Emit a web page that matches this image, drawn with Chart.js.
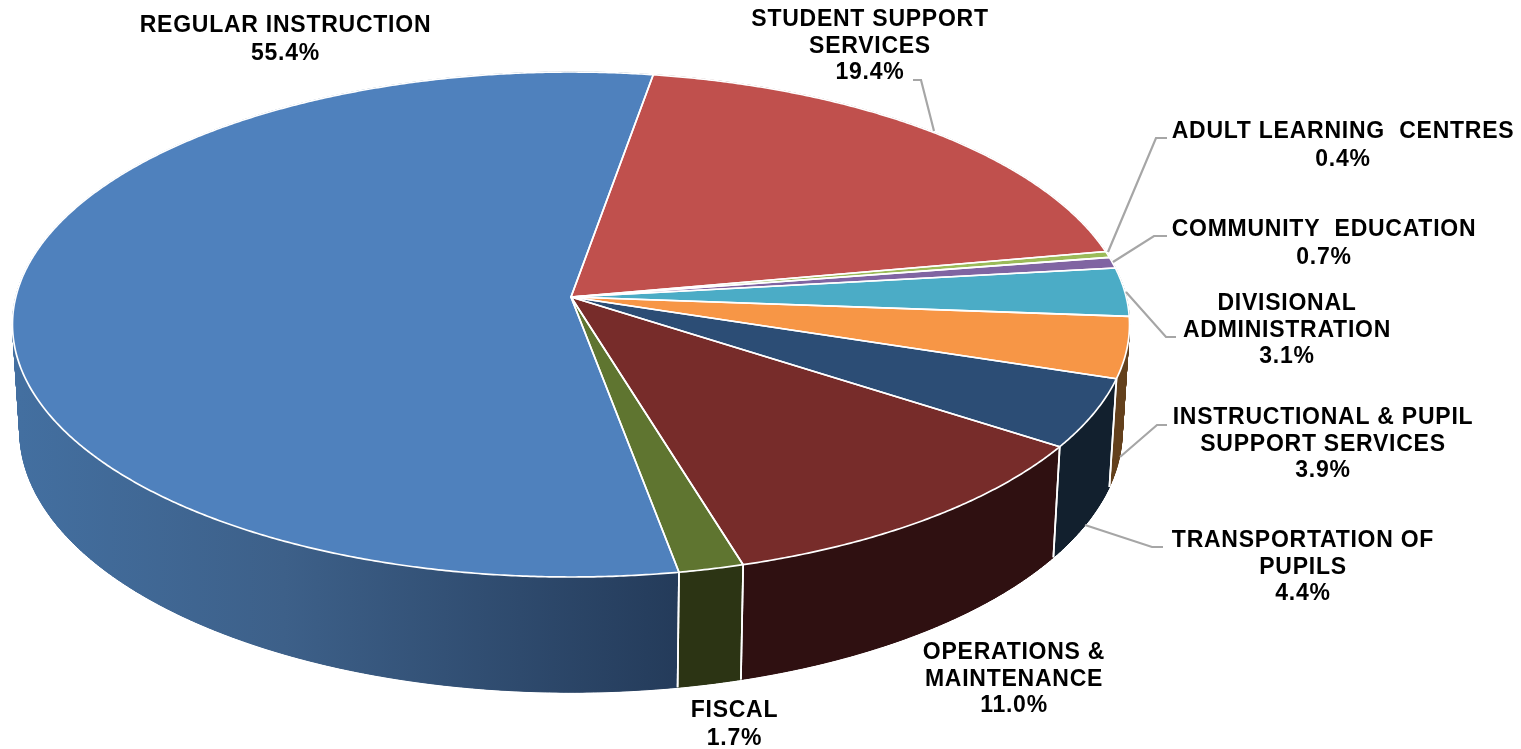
<!DOCTYPE html>
<html>
<head>
<meta charset="utf-8">
<title>Expenditure by function</title>
<script src="https://cdn.jsdelivr.net/npm/chart.js@4"></script>
<style>
  html, body { margin: 0; padding: 0; background: #fff; overflow: hidden; }
  canvas { display: block; filter: blur(0.4px); }
</style>
</head>
<body>
<canvas id="grafico" width="1521" height="749"></canvas>
<script>
const categories = ['REGULAR INSTRUCTION', 'STUDENT SUPPORT SERVICES', 'ADULT LEARNING CENTRES', 'COMMUNITY EDUCATION',
  'DIVISIONAL ADMINISTRATION', 'INSTRUCTIONAL & PUPIL SUPPORT SERVICES', 'TRANSPORTATION OF PUPILS',
  'OPERATIONS & MAINTENANCE', 'FISCAL'];
const values = [55.4, 19.4, 0.4, 0.7, 3.1, 3.9, 4.4, 11.0, 1.7];
const labelLines = [['REGULAR INSTRUCTION'], ['STUDENT SUPPORT', 'SERVICES'], ['ADULT LEARNING  CENTRES'], ['COMMUNITY  EDUCATION'],
  ['DIVISIONAL', 'ADMINISTRATION'], ['INSTRUCTIONAL & PUPIL', 'SUPPORT SERVICES'], ['TRANSPORTATION OF', 'PUPILS'],
  ['OPERATIONS &', 'MAINTENANCE'], ['FISCAL']];
const topColors = ['#4f81bd', '#c0504d', '#9bbb59', '#8064a2', '#4bacc6', '#f79646', '#2c4d75', '#772c2a', '#5f7530'];
const wallColors = ['#3a5f8c', '#5c2625', '#4c5c2b', '#3e304f', '#245461', '#63401c', '#12202e', '#2f1011', '#2c3414'];

// where the labels and their leader lines sit on the page
const labelPos = [[285.5, 26], [870, 20], [1343, 132], [1324, 230], [1287, 304], [1323, 418], [1303, 541], [1014, 653], [734.5, 711]];
const leaders = [
  null,
  [[913, 80], [921, 80], [934, 131]],
  [[1167, 138], [1156, 138], [1108, 252]],
  [[1167, 236], [1154, 236], [1113, 262]],
  [[1176, 337], [1166, 337], [1126, 292]],
  [[1167, 425], [1157, 425], [1120, 457]],
  [[1163, 547], [1152, 547], [1085, 525]],
  null,
  null
];

// perspective of the pie top, a circle seen from the front
const cx = 571, cy = 297, ax = 555.2, by = 249.5, persp = 0.1089;
function topPoint(angle) {
  const u = Math.cos(angle), v = Math.sin(angle), w = 1 - persp * v;
  return [cx + ax * u / w, cy + by * v / w];
}
function bottomPoint(angle) {
  const p = topPoint(angle);
  return [cx + 0.987 * (p[0] - cx), 686 + 1.035 * (p[1] - 571)];
}
function arcAngles(start, end) {
  const out = [];
  const n = Math.max(2, Math.ceil((end - start) / 0.006));
  for (let i = 0; i <= n; i++) out.push(start + (end - start) * i / n);
  return out;
}
function tracePts(ctx, pts, first) {
  pts.forEach((p, i) => {
    if (i === 0 && first) ctx.moveTo(p[0], p[1]);
    else ctx.lineTo(p[0], p[1]);
  });
}

const pie3d = {
  id: 'pie3d',
  beforeDatasetDraw(chart) {
    const ctx = chart.ctx;
    const arcs = chart.getDatasetMeta(0).data;
    ctx.save();
    ctx.lineJoin = 'round';

    // walls, back to front: small quads keep the side folds filled, the band on top hides their seams
    const order = arcs.map((a, i) => i).sort((i, j) =>
      Math.sin((arcs[i].startAngle + arcs[i].endAngle) / 2) - Math.sin((arcs[j].startAngle + arcs[j].endAngle) / 2));
    order.forEach(i => {
      const a = arcs[i];
      let paint = wallColors[i];
      if (i === 0) {
        paint = ctx.createLinearGradient(20, 0, 680, 0);
        paint.addColorStop(0, '#436fa0');
        paint.addColorStop(0.4, '#3d6089');
        paint.addColorStop(1, '#243b5a');
      }
      ctx.fillStyle = paint;
      ctx.strokeStyle = paint;
      ctx.lineWidth = 1;
      const steps = arcAngles(a.startAngle, a.endAngle);
      for (let s = 0; s < steps.length - 1; s++) {
        ctx.beginPath();
        tracePts(ctx, [topPoint(steps[s]), topPoint(steps[s + 1]), bottomPoint(steps[s + 1]), bottomPoint(steps[s])], true);
        ctx.closePath();
        ctx.fill();
        ctx.stroke();
      }
      ctx.beginPath();
      tracePts(ctx, steps.map(topPoint), true);
      tracePts(ctx, steps.map(bottomPoint).reverse(), false);
      ctx.closePath();
      ctx.fill();
    });

    // white seams between the front walls
    ctx.strokeStyle = '#fff';
    ctx.lineWidth = 1.7;
    arcs.forEach(a => {
      [a.startAngle, a.endAngle].forEach(ang => {
        if (Math.sin(ang) < 0.2) return;
        const p = topPoint(ang), q = bottomPoint(ang);
        ctx.beginPath();
        ctx.moveTo(p[0], p[1]);
        ctx.lineTo(q[0], q[1]);
        ctx.stroke();
      });
    });

    // top face
    const facePath = a => {
      ctx.beginPath();
      ctx.moveTo(cx, cy);
      tracePts(ctx, arcAngles(a.startAngle, a.endAngle).map(topPoint), false);
      ctx.closePath();
    };
    arcs.forEach((a, i) => {
      facePath(a);
      ctx.fillStyle = topColors[i];
      ctx.fill();
    });
    arcs.forEach(a => {
      facePath(a);
      ctx.stroke();
    });
    ctx.restore();
    return false; // skip the flat pie, the slices are drawn above
  },
  afterDatasetsDraw(chart) {
    const ctx = chart.ctx;
    ctx.save();
    ctx.strokeStyle = '#a6a6a6';
    ctx.lineWidth = 2.2;
    leaders.forEach(l => {
      if (!l) return;
      ctx.beginPath();
      tracePts(ctx, l, true);
      ctx.stroke();
    });
    ctx.fillStyle = '#000';
    ctx.font = 'bold 23px "Liberation Sans"';
    ctx.letterSpacing = '0.75px';
    ctx.textAlign = 'center';
    ctx.textBaseline = 'middle';
    values.forEach((val, i) => {
      const lines = labelLines[i].concat(val.toFixed(1) + '%');
      const gap = lines.length === 2 ? 27.5 : 26.5;
      lines.forEach((t, k) => ctx.fillText(t, labelPos[i][0], labelPos[i][1] + k * gap));
    });
    ctx.restore();
  }
};

new Chart(document.getElementById('grafico').getContext('2d'), {
  type: 'pie',
  data: {
    labels: categories,
    datasets: [{ data: values, backgroundColor: topColors, borderColor: '#fff', borderWidth: 2 }]
  },
  options: {
    responsive: false,
    animation: false,
    rotation: 170,
    plugins: { legend: { display: false }, tooltip: { enabled: false } }
  },
  plugins: [pie3d]
});
</script>
</body>
</html>
